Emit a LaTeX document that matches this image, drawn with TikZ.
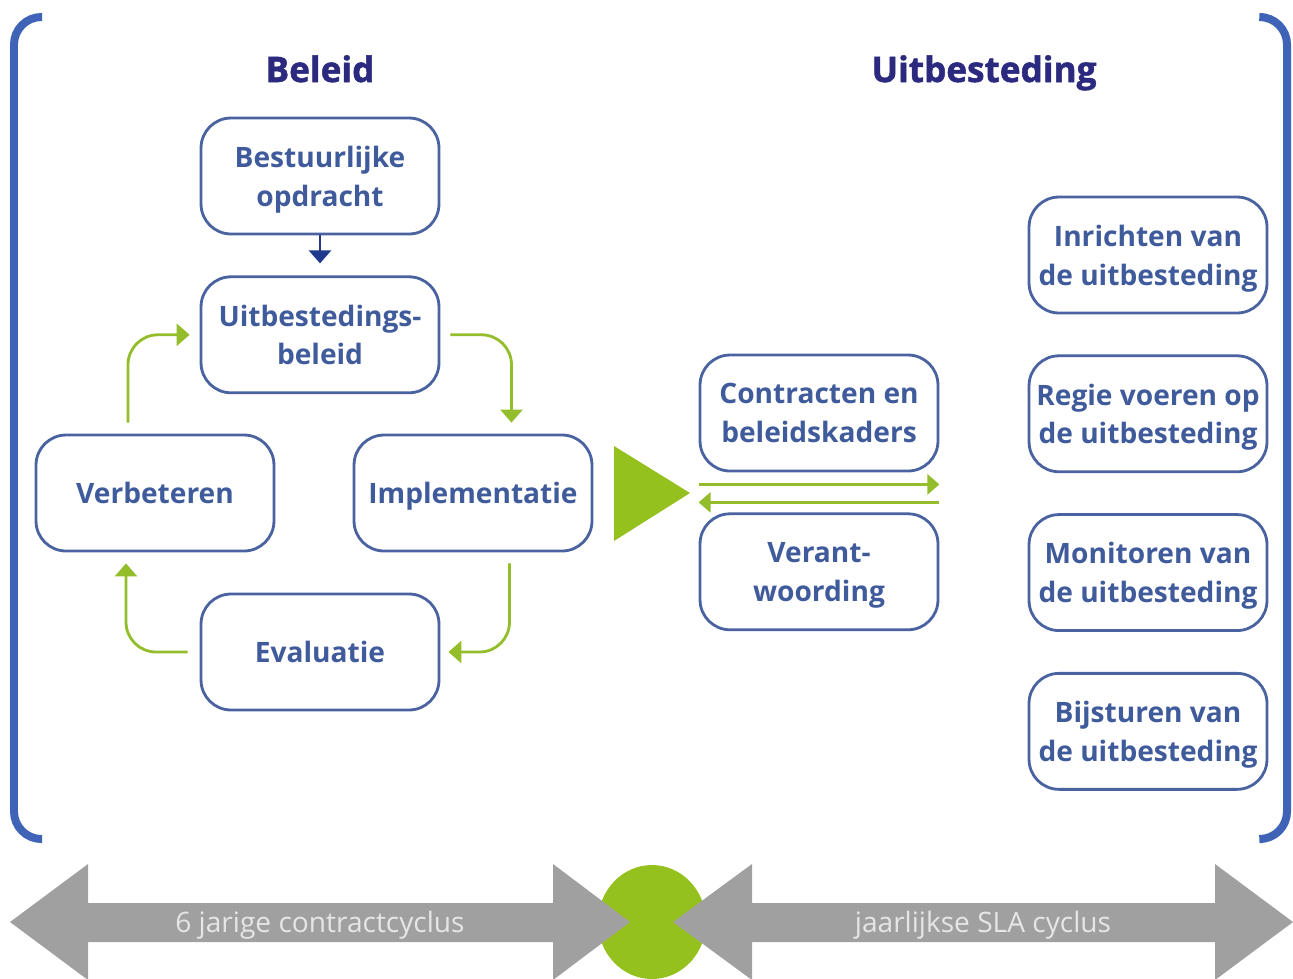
\documentclass[tikz,border=0pt]{standalone}
\usepackage{fontspec}
\setmainfont{Open Sans}
\newfontfamily\headfont{Open Sans}[BoldFeatures={FakeBold=1.5}]
\usetikzlibrary{arrows.meta, positioning}

\definecolor{boxline}{HTML}{4A62A0}
\definecolor{boxtext}{HTML}{3F5B9B}
\definecolor{titletext}{HTML}{2B2A7F}
\definecolor{bracketblue}{HTML}{3F63B6}
\definecolor{navyarrow}{HTML}{1F3A8C}
\definecolor{cyclegreen}{HTML}{93BD2A}
\definecolor{wedgegreen}{HTML}{95C11F}
\definecolor{spangray}{HTML}{A0A0A0}
\definecolor{spantext}{HTML}{E6E6E6}

\begin{document}
\begin{tikzpicture}[
    x=0.02cm, y=-0.02cm,
    node distance=0.8cm,
    stage/.style={rectangle, draw=boxline, line width=1.6pt, rounded corners=0.6cm, minimum width=4.76cm, minimum height=2.32cm, align=center, text depth=0pt, text=boxtext, font=\fontsize{16}{22}\selectfont\bfseries},
    heading/.style={anchor=base, text=titletext, font=\headfont\fontsize{20}{24}\selectfont\bfseries},
    cyclearrow/.style={-{Triangle[width=0.44cm,length=0.26cm]}, draw=cyclegreen, line width=1.6pt, rounded corners=0.6cm},
    linkarrow/.style={-{Triangle[width=0.4cm,length=0.24cm]}, draw=cyclegreen, line width=1.6pt},
    bracket/.style={draw=bracketblue, line width=0.16cm, rounded corners=0.55cm},
    spanlabel/.style={text=spantext, text depth=0pt, font=\fontsize{16}{19}\selectfont}
]
\useasboundingbox (0,0) rectangle (1293,978);

% Headings
\node[heading] (beleidkop) at (320,82) {Beleid};
\node[heading] (uitbkop) at (984,82) {Uitbesteding};

% Policy cycle
\node[stage] (opdracht) at (320,176) {Bestuurlijke\\opdracht};
\node[stage, below=of opdracht] (beleid) {Uitbestedings-\\beleid};
\node[stage] (verbeteren) at (155,493) {Verbeteren};
\node[stage] (implementatie) at (473,493) {Implementatie};
\node[stage] (evaluatie) at (320,652) {Evaluatie};

% Contracts and accountability
\node[stage] (contracten) at (819,413) {Contracten en\\beleidskaders};
\node[stage, below=of contracten] (verantwoording) {Verant-\\woording};

% Outsourcing steps
\node[stage] (inrichten) at (1148,255) {Inrichten van\\de uitbesteding};
\node[stage, below=of inrichten] (regie) {Regie voeren op\\de uitbesteding};
\node[stage, below=of regie] (monitoren) {Monitoren van\\de uitbesteding};
\node[stage, below=of monitoren] (bijsturen) {Bijsturen van\\de uitbesteding};

% Arrows
\draw[-{Triangle[width=0.44cm,length=0.26cm]}, draw=navyarrow, line width=1.6pt] (opdracht.south) -- ([yshift=0.24cm]beleid.north);
\draw[cyclearrow] ([xshift=0.2cm]beleid.east) -| ([xshift=0.77cm,yshift=0.22cm]implementatie.north);
\draw[cyclearrow] ([xshift=0.73cm,yshift=-0.22cm]implementatie.south) |- ([xshift=0.16cm]evaluatie.east);
\draw[cyclearrow] ([xshift=-0.24cm]evaluatie.west) -| ([xshift=-0.58cm,yshift=-0.22cm]verbeteren.south);
\draw[cyclearrow] ([xshift=-0.54cm,yshift=0.22cm]verbeteren.north) |- ([xshift=-0.2cm]beleid.west);
\draw[linkarrow] ([yshift=-0.24cm]contracten.south west) -- ([yshift=-0.24cm]contracten.south east);
\draw[linkarrow] ([yshift=0.2cm]verantwoording.north east) -- ([yshift=0.2cm]verantwoording.north west);

% Green wedge
\fill[wedgegreen] (614,446) -- (690,493) -- (614,541) -- cycle;

% Brackets
\draw[bracket] (42,17) -- (14,17) -- (14,839) -- (42,839);
\draw[bracket] (1263,17) -- (1287,17) -- (1287,839) -- (1263,839);

% Timeline
\fill[wedgegreen] (652,922) ellipse [x radius=1.08cm, y radius=1.14cm];
\fill[spangray] (10,922) -- (88,864) -- (88,903) -- (553,903) -- (553,864) -- (630,922)
    -- (553,980) -- (553,942) -- (88,942) -- (88,980) -- cycle;
\fill[spangray] (673,922) -- (752,864) -- (752,903) -- (1215,903) -- (1215,864) -- (1293,922)
    -- (1215,980) -- (1215,942) -- (752,942) -- (752,980) -- cycle;
\node[spanlabel] (zesjaar) at (320,922) {6 jarige contractcyclus};
\node[spanlabel] (jaarlijks) at (983,922) {jaarlijkse SLA cyclus};

\end{tikzpicture}
\end{document}
